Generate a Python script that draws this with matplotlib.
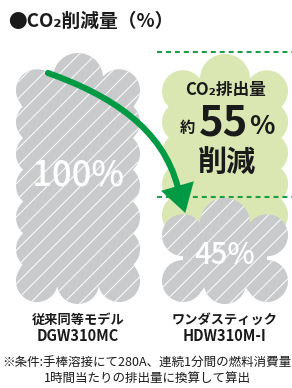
import numpy as np
import matplotlib
matplotlib.use("Agg")
import matplotlib.pyplot as plt
from matplotlib.patches import Polygon, PathPatch
from matplotlib.path import Path

plt.rcParams['font.family'] = ['Noto Sans CJK JP', 'DejaVu Sans']
plt.rcParams['hatch.linewidth'] = 0.7
plt.rcParams['hatch.color'] = 'white'

# data
models = ["従来同等モデル", "ワンダスティック"]
model_codes = ["DGW310MC", "HDW310M-I"]
values = [100, 45]
reduction = 55
title = "●CO₂削減量（%）"
notes = ["※条件:手棒溶接にて280A、連続1分間の燃料消費量",
         "1時間当たりの排出量に換算して算出"]

GRAY = "#c9cacb"
LIGHT_GREEN = "#dae7b3"
GREEN = "#009944"
TEXT = "#1a1a1a"

fig = plt.figure(figsize=(2.92, 3.88), dpi=100)
ax = fig.add_axes([0, 0, 1, 1])
ax.set_xlim(0, 292)
ax.set_ylim(388, 0)
ax.axis('off')

# value -> pixel level (100% at top line, 45% at lower line)
def level(v):
    return 315.6 - v * 2.636

def cloud(x0, x1, ytop, ybot, color, hatch=None, z=1, r=21, R=25):
    # circles + inner rectangle, outline traced radially from the centre
    cx = (x0 + x1) / 2
    y0 = ytop + 0.65 * R + r
    yb = ybot - r
    circles = [(cx, ytop + R, R), (cx, yb + 2, r)]
    n = max(2, int(round((yb - y0) / 33)) + 1)
    for y in np.linspace(y0, yb, n):
        circles += [(x0 + r, y, r), (x1 - r, y, r)]
    rect = (x0 + r, x1 - r, y0, yb)
    o = np.array([cx, (y0 + yb) / 2])
    pts = []
    for th in np.linspace(0, 2 * np.pi, 900, endpoint=False):
        u = np.array([np.cos(th), np.sin(th)])
        best = 0
        for (ccx, ccy, rr) in circles:
            w = np.array([ccx, ccy]) - o
            b = u @ w
            disc = rr ** 2 - (w @ w - b ** 2)
            if disc >= 0:
                best = max(best, b + np.sqrt(disc))
        tx = ((rect[1] if u[0] > 0 else rect[0]) - o[0]) / u[0] if abs(u[0]) > 1e-9 else np.inf
        ty = ((rect[3] if u[1] > 0 else rect[2]) - o[1]) / u[1] if abs(u[1]) > 1e-9 else np.inf
        best = max(best, min(tx, ty))
        pts.append(o + best * u)
    kw = dict(facecolor=color, linewidth=0, zorder=z)
    if hatch:
        kw['hatch'] = hatch
    ax.add_patch(Polygon(pts, closed=True, **kw))

xs = [(16, 140), (162, 288)]
base = 302

# green reduction cloud behind the 45% cloud
cloud(xs[1][0], xs[1][1], level(values[0]) + 2, 236, LIGHT_GREEN, z=1)

for (x0, x1), v in zip(xs, values):
    cloud(x0, x1, level(v) + 1, base, GRAY, hatch="//", z=2)

# dashed guide lines
for v in values:
    ax.plot([157, 292], [level(v), level(v)], color="#1f9e4a", lw=1.5,
            dashes=(2.4, 1.9), zorder=3)

# curved arrow
P = np.array([(48, 73), (110, 95), (163, 128), (178, 188)])
path = Path(P, [Path.MOVETO, Path.CURVE4, Path.CURVE4, Path.CURVE4])
ax.add_patch(PathPatch(path, fill=False, edgecolor=GREEN, lw=4.4,
                       capstyle='round', zorder=4))
d = np.array([0.28, 0.96])
d = d / np.linalg.norm(d)
nrm = np.array([d[1], -d[0]])
tip = P[-1] + d * 26
ax.add_patch(Polygon([P[-1] - d * 2 + nrm * 17, tip, P[-1] - d * 2 - nrm * 17],
                     closed=True, facecolor=GREEN, edgecolor="none", zorder=5))

# percentages inside clouds
ax.text(78, 176, f"{values[0]}%", color="white", fontsize=25, fontweight="medium",
        ha="center", va="center", zorder=6)
ax.text(225, 256, f"{values[1]}%", color="white", fontsize=21, fontweight="medium",
        ha="center", va="center", zorder=6)

# reduction text
ax.text(226, 90, "CO₂排出量", color=TEXT, fontsize=12, fontweight="bold",
        ha="center", va="center", zorder=6)
ax.text(187, 128, "約", color=TEXT, fontsize=11, fontweight="bold",
        ha="center", va="center", zorder=6)
ax.text(223, 123, f"{reduction}", color=TEXT, fontsize=30, fontweight="bold",
        ha="center", va="center", zorder=6)
ax.text(262, 127, "%", color=TEXT, fontsize=19, fontweight="bold",
        ha="center", va="center", zorder=6)
ax.text(227, 162, "削減", color=TEXT, fontsize=21, fontweight="bold",
        ha="center", va="center", zorder=6)

# title
ax.text(8, 21, title, color=TEXT, fontsize=13.5, fontweight="bold",
        ha="left", va="center")

# model labels
for (x0, x1), m, c in zip(xs, models, model_codes):
    cx = (x0 + x1) / 2
    ax.text(cx, 320, m, color=TEXT, fontsize=9.5, fontweight="bold",
            ha="center", va="center")
    ax.text(cx, 336, c, color=TEXT, fontsize=10.5, fontweight="bold",
            ha="center", va="center")

ax.text(2, 362, notes[0], color=TEXT, fontsize=9.0, ha="left", va="center")
ax.text(147, 378, notes[1], color=TEXT, fontsize=9.0, ha="center", va="center")

fig.savefig("out.png", dpi=100)
